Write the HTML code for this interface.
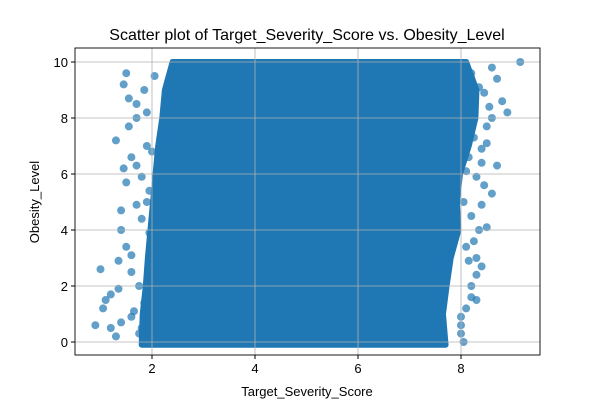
<!DOCTYPE html>
<html><head><meta charset="utf-8"><style>
body{margin:0;background:#fff;font-family:"Liberation Sans","DejaVu Sans",sans-serif}
svg text{font-family:"Liberation Sans","DejaVu Sans",sans-serif}
</style></head><body>
<svg id="chart" width="600" height="400">
<rect width="600" height="400" fill="#fff"/>
<g id="core"></g><g id="pts"></g><g id="grid"></g>
<rect x="75" y="48" width="465" height="307" fill="none" stroke="#000" stroke-width="0.9"/>
<g id="axes"></g>
<text x="307" y="40" text-anchor="middle" font-size="16">Scatter plot of Target_Severity_Score vs. Obesity_Level</text>
<text x="307" y="396" text-anchor="middle" font-size="13">Target_Severity_Score</text>
<text transform="translate(39,202) rotate(-90)" text-anchor="middle" font-size="13">Obesity_Level</text>
</svg>
<script>
const xTicks=[2,4,6,8];
const yTicks=[0,2,4,6,8,10];
// dense core envelope: y band, left edge, right edge
const coreY=[-0.1,1,2,3,4,5,6,7,8,9,10];
const coreXMin=[1.8,1.82,1.88,1.92,1.97,2.02,2.07,2.12,2.2,2.25,2.4];
const coreXMax=[7.7,7.65,7.72,7.8,7.95,7.92,7.98,8.15,8.28,8.3,8.1];
// sparse outliers / fringe points
const ptX=[0.9,1.0,1.1,1.05,1.2,1.3,1.35,1.4,1.3,1.45,1.5,1.55,1.6,1.4,1.5,1.7,1.6,1.75,1.8,1.65,1.5,1.45,1.55,1.7,1.85,1.9,1.6,1.8,1.95,1.7,1.9,2.0,1.85,1.95,2.0,1.75,1.9,2.05,2.0,1.8,1.6,1.7,1.4,1.2,1.35,
9.15,8.8,8.9,8.7,8.6,8.5,8.4,8.3,8.2,8.0,8.7,8.6,8.4,8.3,8.2,8.5,8.1,8.0,8.35,8.45,8.25,8.15,8.05,8.6,8.55,8.4,8.3,8.2,8.1,8.0,8.45,8.35,8.25,8.15,8.05,8.5,8.3,8.1,8.2,8.4];
const ptY=[0.6,2.6,1.5,1.2,1.7,0.2,2.9,4.0,7.2,9.2,9.6,8.7,6.6,4.7,5.7,8.0,3.1,2.0,0.5,1.1,3.4,6.2,7.7,8.5,9.0,5.0,0.9,4.4,3.9,6.3,7.0,2.3,1.4,5.4,6.8,0.3,8.2,9.5,3.0,5.9,2.5,4.9,0.7,0.5,1.9,
10.0,8.6,8.2,6.3,5.3,4.1,2.7,2.4,1.6,0.9,9.4,8.0,6.9,5.9,4.5,7.7,3.4,0.3,9.1,8.9,7.3,6.6,5.0,9.8,8.4,4.9,3.0,2.0,1.2,0.6,5.6,4.0,3.6,2.9,0.0,7.1,1.5,6.1,9.6,6.4];
const X0=75,X1=540,Y0=48,Y1=355;
const sx=v=>49+v*51.5, sy=v=>342-v*28;
const NS="http://www.w3.org/2000/svg";
function mk(t,a,p){const e=document.createElementNS(NS,t);for(const k in a)e.setAttribute(k,a[k]);p.appendChild(e);return e;}
let d="M"+sx(coreXMin[0])+","+sy(coreY[0]);
for(let i=1;i<coreY.length;i++)d+=" L"+sx(coreXMin[i])+","+sy(coreY[i]);
for(let i=coreY.length-1;i>=0;i--)d+=" L"+sx(coreXMax[i])+","+sy(coreY[i]);
d+="Z";
const core=mk("path",{d:d,fill:"#1f77b4",stroke:"#1f77b4","stroke-width":"6","stroke-linejoin":"round"},document.getElementById("core"));


const pg=document.getElementById("pts");
for(let i=0;i<ptX.length;i++){
 const c=mk("circle",{cx:sx(ptX[i]),cy:sy(ptY[i]),r:4,fill:"#1f77b4","fill-opacity":0.7},pg);
 
 
}
const gg=document.getElementById("grid"),ag=document.getElementById("axes");
xTicks.forEach(v=>{
 const l=mk("line",{x1:sx(v),x2:sx(v),y1:Y0,y2:Y1,stroke:"#b0b0b0","stroke-width":0.8},gg);
 
 
 mk("line",{x1:sx(v),x2:sx(v),y1:Y1,y2:Y1+4,stroke:"#000"},ag);
 const t=mk("text",{x:sx(v),y:Y1+18,"text-anchor":"middle","font-size":13},ag);t.textContent=v;
 
 
});
yTicks.forEach(v=>{
 const l=mk("line",{x1:X0,x2:X1,y1:sy(v),y2:sy(v),stroke:"#b0b0b0","stroke-width":0.8},gg);
 
 
 mk("line",{x1:X0-4,x2:X0,y1:sy(v),y2:sy(v),stroke:"#000"},ag);
 const t=mk("text",{x:X0-7,y:sy(v)+5,"text-anchor":"end","font-size":13},ag);t.textContent=v;
 
 
});
</script>
</body></html>
